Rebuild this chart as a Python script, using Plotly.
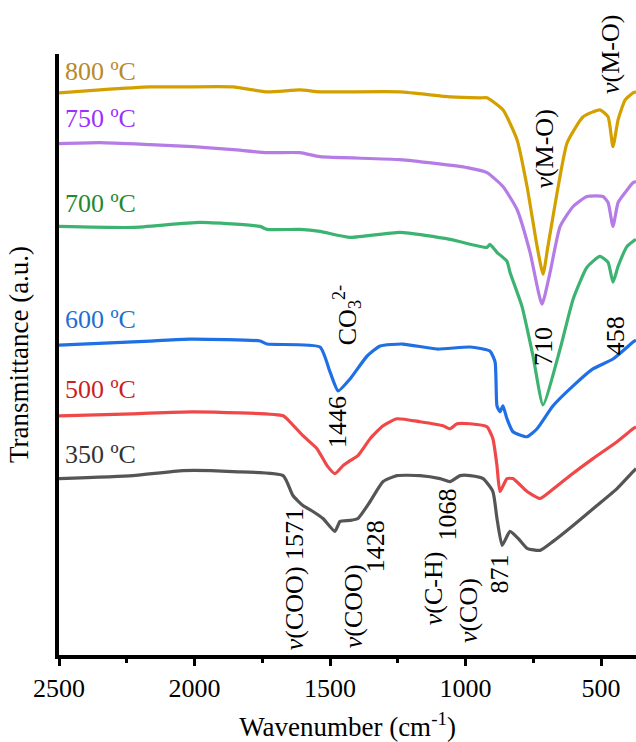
import plotly.graph_objects as go

# ---- data (wavenumber in cm^-1, transmittance in arbitrary units, stacked offsets) ----
wn_800 = [2500, 2349, 2164, 2042, 1858, 1732, 1611, 1537, 1242, 1057, 946, 921, 862, 810, 773, 736, 714, 696, 662, 625, 566, 504, 474, 456, 437, 411, 382, 371]
t_800 = [564, 567, 570, 570, 570, 565, 567, 565, 565, 560, 559, 559, 547, 517, 470, 410, 382, 410, 464, 514, 540, 547, 540, 510, 537, 557, 564, 565]

wn_750 = [2500, 2349, 2164, 2006, 1858, 1732, 1611, 1537, 1242, 994, 921, 862, 810, 762, 718, 688, 651, 603, 552, 493, 474, 456, 437, 411, 382, 371]
t_750 = [513, 514, 512, 510, 507, 504, 504, 500, 497, 489, 484, 470, 447, 404, 352, 384, 430, 450, 460, 460, 454, 430, 454, 464, 474, 475]

wn_700 = [2500, 2227, 1980, 1758, 1732, 1611, 1537, 1426, 1242, 1057, 921, 910, 884, 847, 836, 792, 751, 714, 651, 603, 552, 504, 474, 456, 437, 404, 382, 371]
t_700 = [430, 429, 434, 430, 427, 427, 425, 419, 424, 417, 409, 412, 404, 395, 384, 350, 300, 251, 307, 357, 389, 400, 394, 374, 390, 410, 415, 417]

wn_600 = [2500, 2164, 2017, 1758, 1732, 1537, 1500, 1470, 1426, 1363, 1315, 1231, 1105, 983, 910, 891, 884, 873, 862, 847, 825, 773, 736, 677, 603, 530, 456, 382, 371]
t_600 = [311, 315, 317, 315, 312, 309, 284, 265, 277, 300, 310, 312, 307, 309, 305, 294, 250, 244, 250, 237, 224, 219, 227, 250, 270, 287, 297, 314, 316]

wn_500 = [2500, 2227, 2006, 1673, 1648, 1600, 1548, 1511, 1482, 1452, 1426, 1397, 1352, 1304, 1253, 1168, 1083, 1057, 1031, 983, 921, 899, 884, 873, 847, 825, 773, 725, 688, 614, 530, 441, 382, 371]
t_500 = [240, 242, 244, 240, 234, 220, 207, 190, 182, 190, 195, 200, 217, 230, 237, 234, 230, 227, 232, 232, 229, 217, 190, 164, 177, 177, 164, 157, 164, 180, 197, 214, 227, 229]

wn_350 = [2500, 2227, 2042, 1858, 1673, 1637, 1600, 1563, 1526, 1482, 1463, 1426, 1397, 1352, 1304, 1253, 1168, 1094, 1057, 1020, 983, 935, 899, 884, 865, 836, 806, 773, 725, 677, 603, 515, 441, 382, 371]
t_350 = [177, 180, 185, 184, 180, 160, 150, 144, 137, 124, 134, 135, 137, 154, 174, 180, 180, 177, 174, 180, 180, 177, 164, 137, 110, 124, 117, 107, 105, 114, 130, 150, 167, 184, 187]

series_names = ["350 ºC", "500 ºC", "600 ºC", "700 ºC", "750 ºC", "800 ºC"]
series_x = [wn_350, wn_500, wn_600, wn_700, wn_750, wn_800]
series_y = [t_350, t_500, t_600, t_700, t_750, t_800]
line_colors = ["#555555", "#F04848", "#1F6FE5", "#3CB371", "#B57CE6", "#D4A000"]
label_colors = ["#333333", "#CC1F1F", "#1E6FD0", "#1F8A2E", "#9B30FF", "#B8892B"]
label_y = [201, 266, 337, 453, 538, 585]

# peak annotations: (text, x, y)
peak_labels = [
    ("<i>ν</i>(M-O)", 707, 508),
    ("<i>ν</i>(M-O)", 467, 603),
    ("CO<sub>3</sub><sup>2-</sup>", 1437, 341),
    ("1446", 1470, 234),
    ("710", 714, 309),
    ("458", 448, 320),
    ("<i>ν</i>(COO) 1571", 1633, 76),
    ("<i>ν</i>(COO)", 1415, 49),
    ("1428", 1334, 109),
    ("<i>ν</i>(C-H)", 1120, 67),
    ("1068", 1065, 141),
    ("<i>ν</i>(CO)", 991, 45),
    ("871", 876, 81),
]

FONT = "Times New Roman, Liberation Serif, DejaVu Serif, serif"

fig = go.Figure()
for name, xs, ys, lc in zip(series_names, series_x, series_y, line_colors):
    fig.add_trace(go.Scatter(x=xs, y=ys, mode="lines", name=name,
                             line=dict(color=lc, width=3.2, shape="spline", smoothing=0.5),
                             showlegend=False))

for name, ly, c in zip(series_names, label_y, label_colors):
    fig.add_annotation(x=2487, y=ly, xref="x", yref="y", text=name, showarrow=False,
                       xanchor="left", yanchor="middle",
                       font=dict(family=FONT, size=26, color=c))

for txt, x, y in peak_labels:
    fig.add_annotation(x=x, y=y, xref="x", yref="y", text=txt, showarrow=False,
                       textangle=-90, xanchor="center", yanchor="middle",
                       font=dict(family=FONT, size=26, color="black"))

fig.update_layout(
    width=636, height=742,
    margin=dict(l=59, r=0, t=54, b=85),
    paper_bgcolor="white", plot_bgcolor="white",
    font=dict(family=FONT, size=26, color="black"),
    xaxis=dict(
        range=[2500, 371], tickvals=[2500, 2000, 1500, 1000, 500],
        ticks="outside", ticklen=7, tickwidth=3, tickcolor="black",
        minor=dict(ticks="outside", ticklen=4, tickwidth=3, dtick=250, tick0=0, tickcolor="black"),
        showline=True, linewidth=4, linecolor="black", showgrid=False, zeroline=False,
        tickfont=dict(family=FONT, size=26),
        title=dict(text="Wavenumber (cm<sup>-1</sup>)", standoff=20,
                   font=dict(family=FONT, size=27)),
    ),
    yaxis=dict(
        range=[0, 603], showticklabels=False, ticks="",
        showline=True, linewidth=4, linecolor="black", showgrid=False, zeroline=False,
        title=dict(text="Transmittance (a.u.)", standoff=20,
                   font=dict(family=FONT, size=27)),
    ),
)

fig.write_html("out.html")
